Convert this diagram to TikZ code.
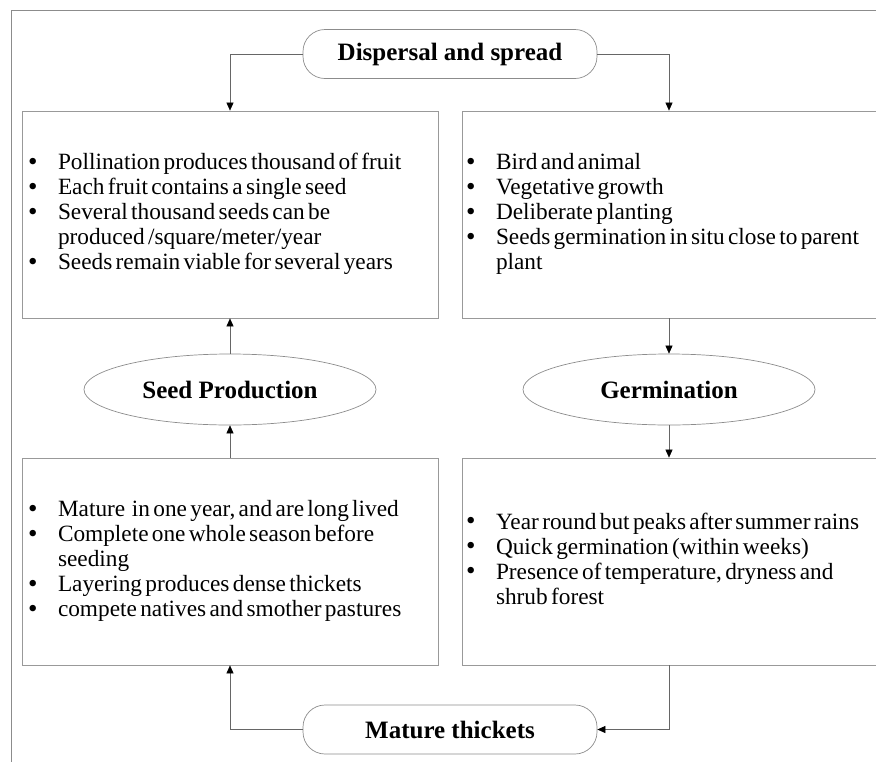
\documentclass[tikz,border=0pt]{standalone}
\usepackage{fontspec}
\setmainfont{Liberation Serif}
\usetikzlibrary{shapes.geometric,arrows.meta}
% bullet list set as a two column tabular
\newcommand\pts[1]{\fontsize{23.3}{25}\selectfont
  \begin{tabular}{@{}p{30pt}@{}l@{}}#1\end{tabular}}
\newcommand\bul{\raisebox{-0.5pt}{\fontsize{27}{25}\selectfont\textbullet}}
\begin{document}
\begin{tikzpicture}[x=1pt,y=-1pt,
    box/.style={draw=black!40,line width=0.8pt,minimum height=207pt,
      align=left,inner ysep=0pt},
    tag/.style={draw=black!45,line width=0.7pt,rounded corners=22pt,
      minimum width=294pt,minimum height=49pt,
      font=\bfseries\fontsize{25}{28}\selectfont},
    oval/.style={ellipse,draw=black!45,line width=0.7pt,
      minimum width=292pt,minimum height=71pt,inner sep=0pt,
      font=\bfseries\fontsize{25}{28}\selectfont},
    arr/.style={draw=black!60,line width=0.6pt,
      -{Triangle[length=8pt,width=7pt,color=black]}}]
  \clip (0,0) rectangle (876,761);
  \draw[black!45,line width=0.8pt] (877,10) -- (11,10) -- (11,762);

  \node[tag] (disp) at (450,54) {Dispersal and spread};
  \node[tag] (mat) at (450,729.5) {Mature thickets};

  \node[box,text width=404pt,inner xsep=6pt] (tl) at (230,214.5) {\pts{%
    \bul & Pollination produces thousand of fruit\\
    \bul & Each fruit contains a single seed\\
    \bul & Several thousand seeds can be\\
         & produced /square/meter/year\\
    \bul & Seeds remain viable for several years}};
  \node[box,text width=412pt,inner xsep=4pt] (tr) at (672,214.5) {\pts{%
    \bul & Bird and animal\\
    \bul & Vegetative growth\\
    \bul & Deliberate planting\\
    \bul & Seeds germination in situ close to parent\\
         & plant}};
  \node[box,text width=404pt,inner xsep=6pt] (bl) at (230,561.5) {\pts{%
    \bul & Mature\ \ in one year, and are long lived\\
    \bul & Complete one whole season before\\
         & seeding\\
    \bul & Layering produces dense thickets\\
    \bul & compete natives and smother pastures}};
  \node[box,text width=412pt,inner xsep=4pt] (br) at (672,561.5) {\pts{%
    \bul & Year round but peaks after summer rains\\
    \bul & Quick germination (within weeks)\\
    \bul & Presence of temperature, dryness and\\
         & shrub forest}};

  \node[oval] (seed) at (230,389.5) {Seed Production};
  \node[oval] (germ) at (669,389.5) {Germination};

  \draw[arr] (disp.west) -| (tl.north);
  \draw[arr] (disp.east) -| (germ.north |- tr.north);
  \draw[arr] (germ.north |- tr.south) -- (germ.north);
  \draw[arr] (germ.south) -- (germ.south |- br.north);
  \draw[arr] (germ.south |- br.south) |- (mat.east);
  \draw[arr] (mat.west) -| (bl.south);
  \draw[arr] (bl.north) -- (seed.south);
  \draw[arr] (seed.north) -- (tl.south);
\end{tikzpicture}
\end{document}
